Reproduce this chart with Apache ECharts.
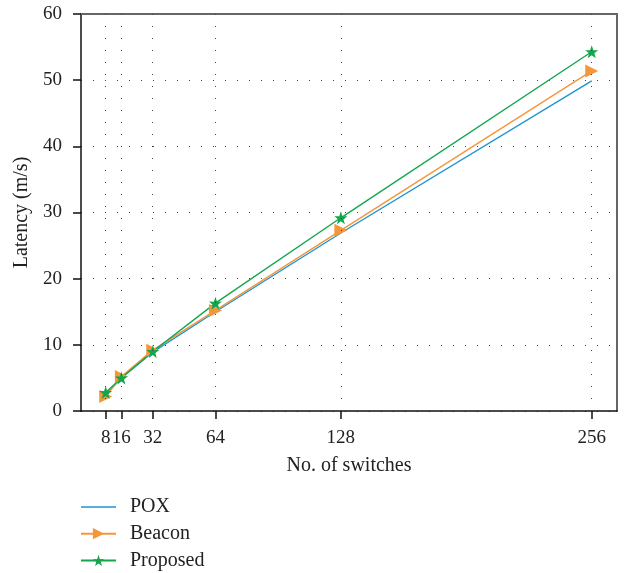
<!DOCTYPE html>
<html><head><meta charset="utf-8">
<script src="https://cdn.jsdelivr.net/npm/echarts@6/dist/echarts.min.js"></script>
<style>html,body{margin:0;padding:0;background:#fff}#c{width:624px;height:573px}</style>
</head><body><div id="c"></div>
<script>
const switches = [8, 16, 32, 64, 128, 256];
const pox = [2.5, 5.0, 8.9, 15.0, 26.9, 49.9];
const beacon = [2.2, 5.2, 9.2, 15.2, 27.3, 51.4];
const proposed = [2.8, 5.0, 9.0, 16.3, 29.2, 54.3];
const yTicks = [0, 10, 20, 30, 40, 50, 60];

const FONT = 'Liberation Serif';
const STAR = 'path://M50,0 L61.8,35.1 L97.6,34.5 L69.1,56.7 L79.4,90.5 L50,70 L20.6,90.5 L30.9,56.7 L2.4,34.5 L38.2,35.1 Z';
const LINE_ICON = 'path://M0,0 L100,0 L100,4.5 L0,4.5 Z';
const pair = (vals) => switches.map((s, i) => [s, vals[i]]);
const dots = { color: '#444', width: 1, type: [1, 11] };

const chart = echarts.init(document.getElementById('c'), null, { renderer: 'canvas' });
chart.setOption({
  animation: false,
  grid: { left: 81, right: 7, top: 14, bottom: 162 },
  xAxis: [{
    type: 'value', min: -4.6, max: 268.9,
    name: 'No. of switches', nameLocation: 'middle', nameGap: 45, nameMoveOverlap: false,
    nameTextStyle: { fontFamily: FONT, fontSize: 20, color: '#222' },
    axisLine: { onZero: false, lineStyle: { color: '#111', width: 1.5 } },
    axisTick: { customValues: switches, length: 8, inside: false, lineStyle: { color: '#111', width: 1.5 } },
    axisLabel: { customValues: switches, margin: 18, fontFamily: FONT, fontSize: 19, color: '#222' },
    splitLine: { show: false }
  }, {
    type: 'value', position: 'top', min: -4.6, max: 268.9,
    axisLine: { show: true, onZero: false, lineStyle: { color: '#666', width: 2 } },
    axisTick: { show: false }, axisLabel: { show: false }, splitLine: { show: false }
  }],
  yAxis: [{
    type: 'value', min: 0, max: 60, interval: 10,
    name: 'Latency (m/s)', nameLocation: 'middle', nameGap: 49, nameMoveOverlap: false,
    nameTextStyle: { fontFamily: FONT, fontSize: 20, color: '#222' },
    axisLine: { show: true, onZero: false, lineStyle: { color: '#111', width: 1.5 } },
    axisTick: { show: true, length: 8, lineStyle: { color: '#111', width: 1.5 } },
    axisLabel: { margin: 19, fontFamily: FONT, fontSize: 19, color: '#222' },
    splitLine: { show: true, lineStyle: dots }
  }, {
    type: 'value', position: 'right', min: 0, max: 60,
    axisLine: { show: true, onZero: false, lineStyle: { color: '#666', width: 2 } },
    axisTick: { show: false }, axisLabel: { show: false }, splitLine: { show: false }
  }],
  legend: {
    orient: 'vertical', left: 80, top: 497, padding: 0, itemWidth: 35, itemHeight: 14, itemGap: 6.7,
    textStyle: { fontFamily: FONT, fontSize: 20, lineHeight: 20, color: '#222', padding: [0, 0, 0, 9] },
    data: [{ name: 'POX', icon: LINE_ICON }, 'Beacon', 'Proposed']
  },
  series: [
    {
      name: 'grid', type: 'line', data: [], silent: true,
      markLine: {
        silent: true, symbol: 'none', label: { show: false },
        lineStyle: dots,
        data: switches.map(s => ({ xAxis: s }))
      }
    },
    {
      name: 'POX', type: 'line', data: pair(pox), symbol: 'none',
      lineStyle: { color: '#1b95d4', width: 1.4 }, itemStyle: { color: '#1b95d4' }
    },
    {
      name: 'Beacon', type: 'line', data: pair(beacon), symbol: 'triangle', symbolSize: 13, symbolRotate: -90,
      lineStyle: { color: '#f5963a', width: 1.4 }, itemStyle: { color: '#f5963a' }
    },
    {
      name: 'Proposed', type: 'line', data: pair(proposed), symbol: STAR, symbolSize: 13,
      lineStyle: { color: '#14a64c', width: 1.4 }, itemStyle: { color: '#14a64c' }
    }
  ]
});
</script></body></html>
